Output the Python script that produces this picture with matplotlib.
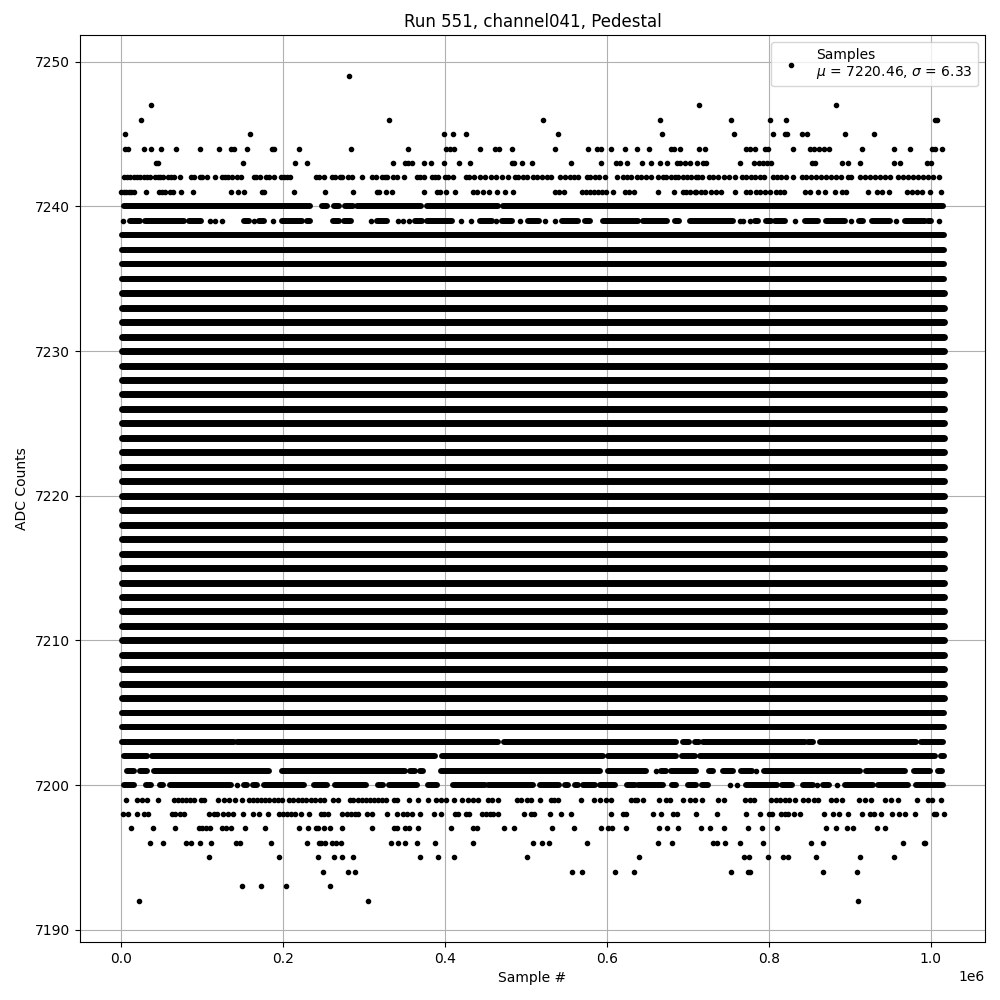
import matplotlib
matplotlib.use('Agg')
import matplotlib.pyplot as plt

# sample positions are in thousands of samples
samples_7249 = [280.7]
samples_7247 = [36.2, 713.5, 883.2]
samples_7246 = [23.9, 331.3, 521.3, 665.8, 753.5, 801.7, 821.4, 1005, 1007.8]
samples_7245 = [4.1, 158.4, 399.1, 410.2, 426.3, 539.9, 668.2, 757.2, 805.4, 820.6, 822.2, 841.2,
                847.3, 894.3, 930.1]
samples_7244 = [4.1, 7.8, 27.6, 36.2, 48.6, 67.1, 96.7, 120.2, 135.4, 138.7, 154.7, 185.6, 188.1,
                218.9, 283.1, 354.7, 401.6, 406.5, 411.5, 443.6, 462.1, 467, 483.1, 536.2, 576.9,
                588, 593, 605.3, 622.6, 637.4, 652.2, 679.8, 683, 690.5, 713.5, 721.4, 772.5, 776.6,
                782.7, 795.1, 799.2, 830.1, 850.6, 855.6, 862.2, 868.3, 874.5, 915.2, 954.7, 974.5,
                1001.7, 1005.4, 1014]
samples_7243 = [43.2, 44.8, 149.8, 214, 228.8, 336.2, 350.6, 354.3, 358.8, 374.4, 383.1, 398.7,
                417.6, 431.2, 483.1, 485.5, 494.6, 507.8, 555.9, 593, 611.5, 616, 625, 643.6, 654.7,
                665.8, 674.4, 686.8, 690.5, 696.7, 702.8, 711.9, 719, 723.1, 764.2, 781.9, 788.1,
                793, 798, 802.9, 853.5, 856.8, 890.1, 898, 912.8, 954.7, 962.2, 995.5, 1000.8]
samples_7242 = [2.9, 7, 11.1, 15.2, 19.3, 23.4, 27.6, 31.7, 35, 41.1, 44.9, 48.2, 51.4, 58, 61.3,
                65.4, 72, 86, 89.3, 96.7, 99.2, 105.3, 115.2, 124.3, 127.6, 131.3, 137, 142.4, 147.3,
                163.4, 166.7, 170.8, 178.6, 181.9, 188.1, 196.7, 200.4, 204.5, 207.8, 240.7, 243.6,
                249.8, 259.7, 263.4, 269.5, 272.4, 280.6, 284.8, 297.9, 309.1, 314.8, 322.6, 325.9,
                328.8, 336.2, 340.3, 348.9, 365, 369.1, 374, 383.5, 387.6, 391.7, 400, 404.1, 409.4,
                425.5, 429.6, 436.2, 443.6, 449.7, 456.3, 462.5, 470.7, 477.3, 486.4, 490.5, 495.8,
                500.8, 509, 513.9, 519.3, 525.5, 530.4, 542.3, 548.1, 554.3, 559.2, 564.6, 574.8,
                579, 585.1, 590.5, 597.5, 611.9, 619.3, 625, 630.4, 636.6, 642.7, 648.1, 655.1,
                663.3, 669.5, 673.6, 679.8, 683.9, 688, 694.2, 699.1, 704.5, 710.6, 712.8, 717.7,
                726.4, 731.3, 737.5, 744.9, 751, 758, 767.5, 771.6, 778.6, 783.6, 788.9, 793.9,
                805.4, 810.3, 815.7, 821.8, 830.1, 841.2, 846.5, 852.7, 858.9, 865, 871.2, 877.4,
                883.6, 889.7, 898, 901.3, 912.4, 918.5, 924.7, 930.9, 937.1, 943.2, 949.4, 959.7,
                965.9, 972, 978.2, 984.4, 990.5, 996.7, 1002.9, 1011.1]
samples_7241 = [-0.4, 2.9, 6.2, 9.1, 11.9, 15.2, 30, 46.1, 50.2, 54.3, 60.5, 63.8, 73.2, 88.1, 135,
                143.6, 151, 173.7, 176.5, 212.7, 251, 286.8, 315.6, 318.9, 327.1, 334, 374.4, 390.5,
                393.8, 400.8, 411.9, 434.9, 439, 446.5, 454.3, 464.6, 474.4, 483.5, 536.2, 541.1,
                547.3, 569.5, 574, 579, 583.9, 589.2, 594.2, 599.5, 607.8, 622.2, 627.5, 633.7,
                663.3, 683, 694.2, 698.3, 703.2, 709.4, 710.7, 716.9, 721, 729.2, 735.4, 741.6,
                758.9, 771.6, 777.4, 784, 789.7, 795.5, 801.3, 809.5, 814.4, 818.5, 844.5, 850.6,
                860.9, 869.2, 882.3, 891, 895.9, 922.6, 933.8, 940.4, 948.2, 970.8, 977.4, 983.1,
                988.9, 999.6, 1013.2]
samples_7239 = [1.6, 109.9, 116, 123.9, 163.4, 186.8, 308.2, 341.6, 347.7, 355.5, 419.3, 432, 462.5,
                493, 523.8, 536.2, 764.2, 768.3, 776.6, 832.1, 902.1, 957.6, 1010.3]
samples_7201 = [660.4, 784.8]
samples_7200 = [142.8, 751.9, 760.9, 859.7, 884.4]
samples_7199 = [5.3, 18.9, 25.5, 31.7, 44.9, 64.6, 69.5, 74.5, 79.4, 84.4, 89.3, 98.3, 102.5, 118.9,
                127.2, 132.5, 139.9, 149, 157.2, 162.5, 167.5, 172.4, 177.8, 182.7, 188.1, 193, 198.4,
                206.6, 212, 217.7, 223, 228.4, 234.2, 239.5, 245.7, 250.6, 261.3, 267.1, 281.9, 286.8,
                291.8, 297.1, 302, 307.4, 312.7, 317.7, 322.6, 327.1, 337.4, 341.1, 355.5, 367, 379.4,
                388.8, 395.4, 400.8, 411.5, 421.4, 428.8, 434.1, 441.1, 453.4, 457.6, 465.8, 488.4,
                493.4, 500.8, 505.7, 517.6, 530.4, 534.9, 539, 568.3, 584.3, 591.3, 598.3, 605.3,
                630.4, 634.5, 637.4, 644.8, 664.5, 673.6, 678.5, 694.2, 702.4, 708.6, 718.1, 737.5,
                744.5, 770.4, 776.6, 781.9, 802.5, 808.7, 814.4, 819.8, 825.1, 832.9, 842.4, 848.6,
                856, 860.9, 877.4, 883.6, 891, 911.5, 918.5, 926.8, 943.2, 951.5, 959.7, 983.1, 996.7,
                1001.7, 1013.2]
samples_7198 = [2, 7.8, 18.9, 27.6, 32.9, 62.6, 66.7, 72, 77, 107.8, 114, 118.1, 125.5, 131.7, 137.9,
                150.6, 162.1, 169.5, 180.6, 194.2, 199.6, 204.5, 209.5, 214, 221.4, 231.3, 246.9,
                250.6, 254.7, 273.2, 278.6, 283.5, 288.5, 292.6, 302.9, 309.1, 327.6, 341.1, 347.7,
                352.6, 358.8, 369.1, 386.8, 395.4, 412.3, 416.4, 425.9, 429.6, 445.2, 450.6, 455.5,
                459.6, 465, 497.9, 505.7, 510.2, 529.6, 543.6, 555.9, 605.3, 620.1, 624.2, 657.1, 667,
                682.2, 687.2, 710.6, 736.2, 772.1, 789.3, 800.4, 804.1, 815.7, 819.8, 823.9, 831.3,
                838.7, 868.3, 879.4, 886.9, 897.9, 915.2, 924.7, 930.1, 939.1, 952.3, 960.9, 968.7,
                980.3, 1004.1, 1006.2, 1016.5]
samples_7197 = [11.5, 38.7, 65.8, 95.5, 99.6, 104.1, 109, 123.9, 128.8, 135, 152.3, 177, 218.9, 230,
                239.9, 242.4, 249.8, 257.2, 273.2, 309.1, 337.4, 340.3, 350.6, 356, 367, 407.8, 434.1,
                439.9, 473.2, 485.5, 532.5, 559.6, 593, 601.6, 605.7, 623.8, 664.5, 674.4, 688, 716.5,
                727.6, 744.9, 774.5, 791.8, 809.9, 870.8, 883.1, 896.7, 904.1, 933.8, 943.6]
samples_7196 = [35, 51, 79.4, 85.6, 96.7, 110.3, 141.1, 146.1, 184.4, 228.8, 243.6, 246.9, 251, 259.7,
                265.4, 271.2, 333.7, 341.6, 351, 365.8, 388, 434.9, 509, 520.1, 528.8, 575.7, 663.3,
                680.6, 731.3, 736.2, 746.1, 764.6, 793, 852.3, 867.1, 965.9, 991.4, 993.8]
samples_7195 = [107.8, 194.2, 242.4, 262.1, 273.2, 286.8, 369.5, 391.7, 411.5, 501.6, 639.9, 769.6,
                775.7, 799.2, 817.7, 823.9, 858.5, 912.8, 954.7]
samples_7194 = [248.6, 279.4, 288.5, 557.1, 569.5, 610.2, 633.7, 753.5, 774.5, 776.6, 867.1, 909.1]
samples_7193 = [148.6, 172, 202.9, 257.2]
samples_7192 = [21.4, 305.3, 910.3]

# rows where the dots merge into runs, (first, last) in thousands of samples
runs_7240 = [(2.9, 233.3), (247.7, 253.9), (262.1, 268.3), (276.5, 285.6), (291.7, 369.9),
             (378.1, 465.8), (472, 1015.2)]
runs_7239 = [(10.3, 22.6), (28.8, 77), (83.1, 98.8), (151, 157.2), (169.5, 175.7), (198.3, 223),
             (229.2, 233.3), (261.3, 268.3), (274.5, 283.5), (316.4, 328.8), (362.9, 371.1),
             (378.1, 408.2), (443.2, 457.6), (469.9, 482.3), (502.8, 516.4), (544, 564.6), (572.8, 579),
             (594.6, 638.6), (644.8, 674.4), (684.7, 689.2), (702.4, 756), (782.7, 786.9), (797.1, 803.3),
             (807.4, 819.8), (844.5, 860.9), (871.2, 893.8), (911.1, 916.5), (928, 949.4), (967.9, 992.6),
             (996.7, 1000.8)]
runs_7203 = [(0.8, 138.7), (142.8, 465.8), (472.8, 686), (694.2, 701.6), (708.6, 714), (719, 844.5),
             (848.6, 854.8), (863, 982.3), (988.5, 1015.2)]
runs_7202 = [(2.9, 31.7), (37.9, 387.6), (395.8, 595.4), (601.6, 685.9), (693.4, 708.7), (714.8, 1005),
             (1013.2, 1016.1)]
runs_7201 = [(7, 15.2), (23.4, 31.7), (40.7, 181.9), (198.3, 350.6), (356.7, 362.9), (369.1, 373.2),
             (394.6, 591.3), (601.6, 648.9), (667.4, 672.8), (679.8, 710.7), (726.4, 731.3), (743.7, 756),
             (766.3, 779.9), (793.9, 912.4), (920.6, 967.9), (979, 998.8), (1009.1, 1014)]
runs_7200 = [(3, 15.6), (30.4, 36.6), (47.3, 51), (60.5, 135.4), (151, 155), (162.5, 167.5), (175.7, 225.9),
             (237.4, 253.9), (263.4, 302.4), (317.7, 323), (331.3, 365.8), (379.4, 390.5), (409.4, 449.3),
             (453.4, 509), (517.2, 541.1), (548.1, 552.2), (560.4, 564.6), (570.7, 585.1), (591.3, 609.8),
             (625, 634.5), (638.6, 669.5), (681, 685.9), (700.3, 710.7), (718.1, 725.1), (772.5, 810.3),
             (816.9, 829.2), (842.4, 854.8), (867.1, 874.5), (893.9, 928.8), (935, 972), (982.3, 1015.2)]

# every row from 7204 to 7238 is filled end to end
solid_levels = list(range(7204, 7239))
solid_start = 0.5
solid_end = 1016.5

sample_rows = {7249: samples_7249, 7247: samples_7247, 7246: samples_7246, 7245: samples_7245,
               7244: samples_7244, 7243: samples_7243, 7242: samples_7242, 7241: samples_7241,
               7239: samples_7239, 7201: samples_7201, 7200: samples_7200, 7199: samples_7199,
               7198: samples_7198, 7197: samples_7197, 7196: samples_7196, 7195: samples_7195,
               7194: samples_7194, 7193: samples_7193, 7192: samples_7192}
run_rows = {7240: runs_7240, 7239: runs_7239, 7203: runs_7203, 7202: runs_7202, 7201: runs_7201,
            7200: runs_7200}
for level in solid_levels:
    run_rows[level] = [(solid_start, solid_end)]

x = []
y = []
for level, row in sample_rows.items():
    x += [v * 1000 for v in row]
    y += [level] * len(row)

fig, ax = plt.subplots(figsize=(10, 10), dpi=100)
ax.plot(x, y, 'k.', label='Samples\n$\\mu$ = 7220.46, $\\sigma$ = 6.33')
for level, runs in run_rows.items():
    # the middle rows are packed tighter, so they read a little thicker
    lw = 5.0 if 7206 <= level <= 7234 else 4.3
    for start, end in runs:
        ax.plot([start * 1000, end * 1000], [level, level], color='k', lw=lw, solid_capstyle='round')

ax.set_title('Run 551, channel041, Pedestal')
ax.set_xlabel('Sample #')
ax.set_ylabel('ADC Counts')
ax.grid(True)
ax.legend(loc='upper right')
fig.subplots_adjust(left=0.08, right=0.985, top=0.965, bottom=0.058)
plt.savefig('out.png')
